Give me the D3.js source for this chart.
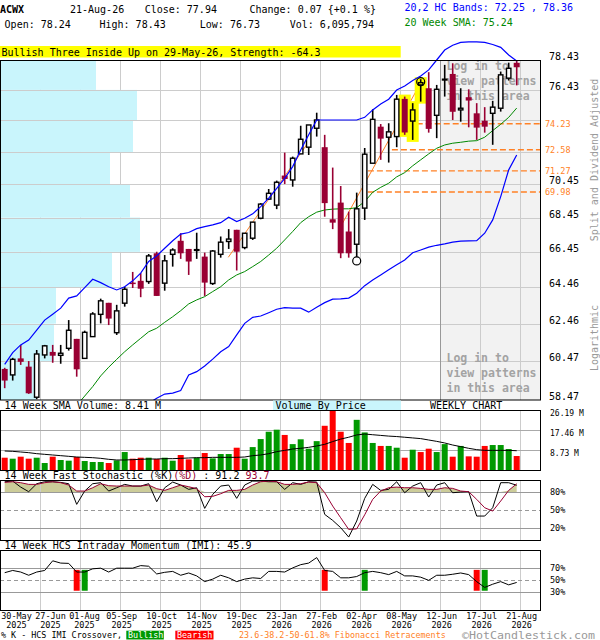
<!DOCTYPE html>
<html><head><meta charset="utf-8">
<script src="https://cdn.jsdelivr.net/npm/d3@7"></script>
<style>
body{margin:0;background:#fff}
svg{display:block}
text{font-family:"DejaVu Sans Mono",monospace}
</style>
</head><body>
<svg id="c" width="600" height="640"></svg>
<script>
// ---------------- DATA ----------------
const tickIdx=[0,4,9,14,19,24,29,34,39,44,49,54,59,64];
const tickDay=["30-May","27-Jun","01-Aug","05-Sep","10-Oct","14-Nov","19-Dec","23-Jan","27-Feb","02-Apr","08-May","12-Jun","17-Jul","21-Aug"];
const tickYear=["2025","2025","2025","2025","2025","2025","2025","2026","2026","2026","2026","2026","2026","2026"];

const open=[60.06,59.75,60.61,60.18,58.61,60.79,60.95,60.77,61.14,61.64,60.61,61.76,62.96,63.59,61.97,63.57,64.71,64.81,64.77,66.37,64.68,66.31,67.09,66.62,66.54,66.18,64.66,66.31,67.05,67.73,66.70,67.24,68.41,69.55,69.19,70.98,70.71,72.32,72.74,73.94,72.74,68.35,69.34,67.63,66.89,69.01,71.74,74.04,73.37,73.41,75.84,74.40,76.76,76.54,74.77,77.09,77.49,75.12,75.95,74.90,74.42,74.90,75.23,77.21,78.24];
const high=[60.12,60.64,61.32,60.47,61.05,61.32,61.32,61.32,62.65,61.64,62.08,63.08,63.82,63.59,63.48,64.48,65.31,65.24,66.33,66.46,66.27,66.66,67.53,66.62,67.56,66.41,66.56,67.34,67.77,67.73,67.53,68.18,69.31,70.16,70.67,72.40,72.15,74.10,74.15,74.94,73.52,71.47,70.34,68.80,69.94,72.69,75.16,74.21,74.26,76.10,75.99,75.56,77.14,77.61,76.76,78.10,78.21,76.54,76.47,75.56,75.30,75.71,77.65,78.25,78.43];
const low=[59.07,59.46,60.27,58.78,58.51,60.61,60.38,60.33,61.02,59.66,60.61,61.76,62.47,62.38,61.85,63.38,64.41,63.90,64.64,63.97,64.26,65.61,66.05,65.14,66.05,63.97,64.58,66.12,66.62,65.39,66.60,67.14,68.35,69.50,68.95,70.46,70.30,72.32,72.25,73.41,68.50,67.77,66.09,66.12,66.16,68.31,71.74,71.95,71.78,72.74,73.52,73.20,75.66,73.66,73.31,75.99,74.47,74.36,74.00,73.20,73.66,72.89,75.01,77.05,76.73];
const close=[59.46,60.56,60.43,58.81,60.84,61.27,60.75,60.88,62.10,60.04,61.99,62.98,63.70,62.73,63.15,64.34,64.63,64.37,66.22,63.97,65.94,66.56,66.37,65.90,66.58,64.71,66.50,67.01,67.19,66.46,67.53,68.18,69.25,69.90,70.57,70.77,72.05,73.24,74.15,74.47,69.31,68.15,66.37,66.37,68.97,72.30,74.51,73.28,73.71,75.82,73.67,75.12,76.91,73.90,76.47,77.14,75.00,75.23,75.73,73.98,74.04,75.30,77.43,77.87,77.94];

const hcUpper=[60.30,60.91,61.32,61.58,62.11,62.65,62.97,63.30,63.85,63.97,64.43,64.90,64.71,64.48,64.30,64.48,64.81,65.24,65.90,66.22,66.66,67.09,67.48,67.57,67.80,67.92,68.02,68.15,68.47,68.21,68.41,68.67,69.10,69.61,70.20,70.81,71.53,72.57,73.52,74.47,74.47,74.47,74.47,74.47,74.47,74.64,75.12,75.51,75.82,76.42,76.69,77.05,77.36,77.76,78.43,79.11,79.44,79.63,79.67,79.67,79.63,79.49,79.29,78.77,78.36];
const hcLower=[null,null,null,null,null,null,null,null,null,null,null,null,null,null,null,null,null,null,58.30,58.56,58.77,58.82,58.95,59.75,59.92,60.21,60.57,60.96,61.23,61.85,62.47,62.80,62.87,63.05,63.24,63.33,63.30,63.30,63.08,63.35,63.60,63.79,63.81,63.85,64.12,64.54,64.86,65.14,65.43,65.71,65.99,66.40,66.56,66.72,66.83,66.91,67.01,67.07,67.09,67.10,67.53,68.31,69.70,71.33,72.25];
const sma20=[null,null,null,null,null,null,null,null,null,58.20,58.67,59.15,59.70,60.15,60.56,60.96,61.32,61.67,62.02,62.21,62.53,62.83,63.16,63.53,63.75,63.93,64.21,64.48,64.86,65.14,65.33,65.61,65.90,66.27,66.66,67.14,67.63,68.15,68.50,68.77,68.90,68.95,68.97,68.97,69.04,69.40,69.96,70.26,70.51,70.90,71.16,71.58,71.95,72.32,72.67,72.88,72.99,73.05,73.12,73.15,73.37,73.79,74.19,74.64,75.24];

const volume=[5.37,4.94,5.81,4.94,5.37,3.05,5.81,4.36,4.07,5.67,3.92,3.49,3.49,3.05,4.21,7.84,4.94,5.37,5.37,4.79,5.37,4.07,6.54,4.65,5.37,7.41,5.08,6.97,6.97,9.73,4.94,10.0,13.5,16.7,17.6,15.3,11.3,13.4,9.30,12.6,19.3,26.19,16.7,11.8,21.9,16.4,11.8,10.5,10.5,9.73,5.37,8.86,7.84,9.30,7.84,11.3,5.81,10.5,5.96,5.81,10.5,10.9,10.9,9.15,6.10];
const volUp=[0,1,0,0,1,1,0,1,1,0,1,1,1,0,1,1,0,0,1,0,1,1,0,0,1,0,1,1,1,0,1,1,1,1,1,0,1,1,1,1,0,0,0,0,1,1,1,0,1,1,0,1,0,0,1,1,0,1,0,0,0,1,1,1,0];
const volSma=[8.29,8.15,7.86,7.57,7.13,6.84,6.55,6.26,5.97,5.67,5.53,5.38,5.09,4.66,4.37,4.37,4.51,4.66,4.80,4.80,4.95,4.95,5.09,5.24,5.38,5.38,5.53,5.53,5.53,5.53,5.67,6.26,6.55,7.13,8.00,8.58,9.17,9.46,9.89,10.48,11.2,12.4,13.5,14.3,15.3,15.7,15.4,15.1,14.8,14.6,14.3,14.0,13.7,13.1,12.5,11.8,10.9,10.2,9.46,8.88,8.58,8.58,8.58,8.58,8.41];

const stochK=[97.1,98.2,88.2,80.5,93.8,97.1,97.1,96.0,93.8,59.4,81.6,93.8,95.5,81.6,87.1,92.7,89.9,89.9,93.8,63.8,87.1,96.6,91.6,84.4,87.1,52.7,76.0,89.9,91.6,69.4,91.6,98.2,98.2,97.1,97.1,84.4,95.5,92.7,97.1,96.6,42.7,32.7,20.5,4.9,31.6,69.4,92.7,82.7,84.4,97.1,78.8,89.9,95.5,71.6,91.6,95.5,78.8,79.9,80.5,39.9,39.9,53.8,95.5,95.5,91.2];
const stochD=[96.0,97.1,95.5,92.7,92.7,95.5,97.1,95.5,91.6,81.6,81.6,87.1,93.8,90.5,89.9,89.9,89.9,89.9,91.6,85.5,82.7,87.1,91.6,88.8,85.5,72.1,72.7,77.1,82.7,82.7,84.4,91.6,97.1,98.2,97.1,92.7,92.7,93.8,96.6,95.5,78.8,56.6,37.1,17.7,18.5,42.0,67.7,81.6,87.1,88.2,87.1,87.1,86.0,84.4,84.4,87.1,86.0,81.6,80.5,67.7,53.8,48.2,64.9,82.7,93.7];

const imi=[62.6,66.4,63.7,58.2,63.7,66.4,82.9,79.0,78.5,63.7,63.7,69.2,70.3,63.7,70.3,70.3,70.3,74.7,73.6,60.4,63.2,64.8,58.2,62.1,57.1,47.3,51.6,58.2,53.8,47.3,51.6,53.8,52.7,64.8,64.8,63.7,70.8,76.3,79.0,88.4,66.4,64.8,53.8,53.8,56.0,62.6,64.8,62.6,59.3,64.8,57.1,57.1,54.9,49.5,58.2,58.2,59.9,62.1,59.3,47.3,37.4,42.9,47.3,41.8,45.9];
const imiBear=[9,40,59];
const imiBull=[10,45,60];

const gridPrices=[78.43,76.43,74.44,72.44,70.45,68.45,66.45,64.46,62.46,60.47,58.47];
const hiddenPrices=[74.44,72.44];
const vbpVol=[96,137,133,110,130,140,112,56,54,36];

const fibLevels=[74.23,72.58,71.27,69.98];
const fibFrom=[51.5,48.4,45.4,45.4];
const fibTrend=[[27.95,66.14,38.16,73.20],[41.9,67.84,52,76.89]];
const patternBars=[50,51,52];
const swingLow=44, swingHigh=52;

// ---------------- DRAW ----------------
const svg=d3.select("#c");
const RED="#990033", ORANGE="#ff8126", CYAN="#c9f5fc";
const x=d3.scaleLinear().domain([0,64]).range([4.7,516.7]);
const y=d3.scaleLog().domain([58.47,78.43]).range([400,60]);
const yv=d3.scaleLinear().domain([0,26.19]).range([470,410]);
const ys=d3.scaleLinear().domain([0,100]).range([540,480]);
const yi=d3.scaleLinear().domain([0,100]).range([609.3,550.8]);
const vbpX=d3.scaleLinear().domain([0,140]).range([0,140]);
const idx=d3.range(65);
const gridX=tickIdx.slice(1).map(i=>Math.round(x(i)+3.3)+0.5);

svg.append("rect").attr("width",600).attr("height",640).attr("fill","#fff");
const defs=svg.append("defs");
defs.append("clipPath").attr("id","cm").append("rect").attr("x",0).attr("y",60).attr("width",541).attr("height",340);

// header
const hdr=svg.append("g").attr("font-size",10);
hdr.append("text").attr("x",0).attr("y",12.7).attr("font-weight","bold").text("ACWX");
hdr.append("text").attr("x",70).attr("y",12.7).text("21-Aug-26");
hdr.append("text").attr("x",144.7).attr("y",12.7).text("Close: 77.94");
hdr.append("text").attr("x",249.5).attr("y",12.7).text("Change: 0.07 {+0.1 %}");
hdr.append("text").attr("x",4.6).attr("y",27.7).text("Open: 78.24");
hdr.append("text").attr("x",99.5).attr("y",27.7).text("High: 78.43");
hdr.append("text").attr("x",199.8).attr("y",27.7).text("Low: 76.73");
hdr.append("text").attr("x",289.7).attr("y",27.7).text("Vol: 6,095,794");
hdr.append("text").attr("x",404.5).attr("y",10.5).attr("fill","#0000ff").text("20,2 HC Bands: 72.25 , 78.36");
hdr.append("text").attr("x",404.5).attr("y",25.7).attr("fill","#008800").text("20 Week SMA: 75.24");
svg.append("rect").attr("x",0).attr("y",46).attr("width",400.7).attr("height",11.5).attr("fill","#ffff00");
svg.append("text").attr("x",1.5).attr("y",55.5).attr("font-size",10).text("Bullish Three Inside Up on 29-May-26, Strength: -64.3");

// main panel
const m=svg.append("g");
m.append("rect").attr("x",440).attr("y",60).attr("width",101).attr("height",340).attr("fill","#f2f2f2");
m.selectAll(".vg").data(gridX).join("line").attr("x1",d=>d).attr("x2",d=>d).attr("y1",60).attr("y2",400).attr("stroke","#cccccc");
m.selectAll(".vbp").data(vbpVol).join("rect")
  .attr("x",0).attr("y",(d,k)=>y(gridPrices[k])).attr("width",d=>vbpX(d))
  .attr("height",(d,k)=>y(gridPrices[k+1])-y(gridPrices[k])).attr("fill",CYAN);
m.selectAll(".hg").data(gridPrices.slice(1,-1)).join("line")
  .attr("x1",0).attr("x2",541).attr("y1",d=>Math.round(y(d))+0.5).attr("y2",d=>Math.round(y(d))+0.5).attr("stroke","#cccccc");
m.append("line").attr("x1",440.5).attr("x2",440.5).attr("y1",60).attr("y2",400).attr("stroke","#999");

const login=m.append("g").attr("fill","#a3a3a3").attr("font-size",11.5).attr("font-weight","bold");
[["Log in to",69.5],["view patterns",84.5],["in this area",99.5],["Log in to",362],["view patterns",377],["in this area",392]]
  .forEach(([t,yy])=>login.append("text").attr("x",446.5).attr("y",yy).text(t));

const mc=m.append("g").attr("clip-path","url(#cm)");
// fib lines
mc.selectAll(".fib").data(fibLevels).join("line")
  .attr("x1",(d,k)=>x(fibFrom[k])).attr("x2",541).attr("y1",d=>y(d)).attr("y2",d=>y(d))
  .attr("stroke",ORANGE).attr("stroke-width",1.4).attr("stroke-dasharray","6,3");
mc.selectAll(".ft").data(fibTrend).join("line")
  .attr("x1",d=>x(d[0])).attr("y1",d=>y(d[1])).attr("x2",d=>x(d[2])).attr("y2",d=>y(d[3]))
  .attr("stroke",ORANGE).attr("stroke-width",1);

const ln=arr=>d3.line().defined(i=>arr[i]!=null).x(i=>x(i)).y(i=>y(arr[i]))(idx);
mc.append("path").attr("d",ln(sma20)).attr("fill","none").attr("stroke","#008800").attr("stroke-width",1);
mc.append("path").attr("d",ln(hcLower)).attr("fill","none").attr("stroke","#0000ff").attr("stroke-width",1.2);
m.append("path").attr("d",ln(hcUpper)).attr("fill","none").attr("stroke","#0000ff").attr("stroke-width",1.2);

// pattern highlight
mc.selectAll(".hl").data(patternBars).join("rect")
  .attr("x",i=>x(i)-6).attr("width",12).attr("y",i=>y(high[i])-2).attr("height",i=>y(low[i])-y(high[i])+4).attr("fill","#ffff00");

// candles
const cg=mc.append("g");
idx.forEach(i=>{
  const up=close[i]>=open[i];
  cg.append("line").attr("x1",x(i)).attr("x2",x(i)).attr("y1",y(high[i])).attr("y2",y(low[i]))
    .attr("stroke",up?"#000":RED).attr("stroke-width",1.6);
  if(up){
    cg.append("rect").attr("x",x(i)-2.2).attr("width",4.4).attr("y",y(close[i]))
      .attr("height",Math.max(y(open[i])-y(close[i]),0.8))
      .attr("fill",patternBars.includes(i)?"#ffff00":"#fff").attr("stroke","#000").attr("stroke-width",1.4);
  } else {
    cg.append("rect").attr("x",x(i)-3).attr("width",6).attr("y",y(open[i]))
      .attr("height",Math.max(y(close[i])-y(open[i]),1.5)).attr("fill",RED);
  }
});
mc.append("circle").attr("cx",x(swingLow)).attr("cy",y(low[swingLow])+4).attr("r",4).attr("fill","none").attr("stroke","#000").attr("stroke-width",1.2);
mc.append("circle").attr("cx",x(swingHigh)).attr("cy",y(high[swingHigh])+2.5).attr("r",4).attr("fill","none").attr("stroke","#000").attr("stroke-width",1.2);
m.append("rect").attr("x",0.5).attr("y",60.5).attr("width",540).attr("height",339.5).attr("fill","none").attr("stroke","#000");

// right axis
svg.append("g").attr("font-size",10).selectAll("text").data(gridPrices.filter(p=>!hiddenPrices.includes(p))).join("text")
  .attr("x",549).attr("y",d=>y(d)).text(d=>d.toFixed(2));
svg.append("g").attr("font-size",8.5).attr("fill",ORANGE).selectAll("text").data(fibLevels).join("text")
  .attr("x",545).attr("y",d=>y(d)+3).text(d=>d.toFixed(2));
svg.append("text").attr("transform","translate(598,160) rotate(-90)").attr("text-anchor","middle").attr("font-size",10).attr("fill","#999").text("Split and Dividend Adjusted");
svg.append("text").attr("transform","translate(598,338) rotate(-90)").attr("text-anchor","middle").attr("font-size",10).attr("fill","#999").text("Logarithmic");

// volume panel
const v=svg.append("g");
v.append("text").attr("x",4.6).attr("y",408.5).attr("font-size",10).text("14 Week SMA Volume: 8.41 M");
v.append("rect").attr("x",273).attr("y",400.5).attr("width",128).attr("height",9.5).attr("fill",CYAN);
v.append("text").attr("x",275.5).attr("y",408.5).attr("font-size",10).text("Volume By Price");
v.append("text").attr("x",430).attr("y",408.5).attr("font-size",10).text("WEEKLY CHART");
v.selectAll(".vg").data(gridX).join("line").attr("x1",d=>d).attr("x2",d=>d).attr("y1",410).attr("y2",470).attr("stroke","#cccccc");
v.selectAll(".hg").data([8.73,17.46]).join("line").attr("x1",0).attr("x2",541)
  .attr("y1",d=>Math.round(yv(d))+0.5).attr("y2",d=>Math.round(yv(d))+0.5).attr("stroke","#aaa");
v.selectAll(".vb").data(idx).join("rect").attr("x",i=>x(i)-3).attr("width",6)
  .attr("y",i=>yv(volume[i])).attr("height",i=>470-yv(volume[i])).attr("fill",i=>volUp[i]?"#009900":"#ff0000");
v.append("path").attr("d",d3.line().x(i=>x(i)).y(i=>yv(volSma[i]))(idx)).attr("fill","none").attr("stroke","#000").attr("stroke-width",1);
v.append("rect").attr("x",0.5).attr("y",410.5).attr("width",540).attr("height",60).attr("fill","none").attr("stroke","#000");
v.append("g").attr("font-size",8).selectAll("text").data([26.19,17.46,8.73]).join("text")
  .attr("x",550).attr("y",d=>yv(d)+5.5).text(d=>d.toFixed(2)+" M");

// stochastic panel
const s=svg.append("g");
const st=s.append("text").attr("x",4.6).attr("y",478.5).attr("font-size",10);
st.append("tspan").text("14 Week Fast Stochastic (%K)");
st.append("tspan").attr("fill",RED).text("(%D)");
st.append("tspan").text(" : 91.2 ");
st.append("tspan").attr("fill",RED).text("93.7");
s.append("path").attr("d",d3.area().x(i=>x(i)).y0(ys(80)).y1(i=>ys(Math.max(stochD[i],80)))(idx)).attr("fill","#cccc99");
s.append("path").attr("d",d3.area().x(i=>x(i)).y0(ys(20)).y1(i=>ys(Math.min(stochD[i],20)))(idx)).attr("fill","#cccc99");
s.selectAll(".vg").data(gridX).join("line").attr("x1",d=>d).attr("x2",d=>d).attr("y1",480).attr("y2",540).attr("stroke","#cccccc");
s.selectAll(".hg").data([80,20]).join("line").attr("x1",0).attr("x2",541)
  .attr("y1",d=>Math.round(ys(d))+0.5).attr("y2",d=>Math.round(ys(d))+0.5).attr("stroke","#999");
s.append("line").attr("x1",0).attr("x2",541).attr("y1",ys(50)+0.5).attr("y2",ys(50)+0.5).attr("stroke","#999").attr("stroke-dasharray","4,3");
s.append("path").attr("d",d3.line().x(i=>x(i)).y(i=>ys(stochK[i]))(idx)).attr("fill","none").attr("stroke","#000").attr("stroke-width",1);
s.append("path").attr("d",d3.line().x(i=>x(i)).y(i=>ys(stochD[i]))(idx)).attr("fill","none").attr("stroke",RED).attr("stroke-width",1);
s.append("rect").attr("x",0.5).attr("y",480.5).attr("width",540).attr("height",60).attr("fill","none").attr("stroke","#000");
s.append("g").attr("font-size",8.5).selectAll("text").data([80,50,20]).join("text")
  .attr("x",550).attr("y",d=>ys(d)+3).text(d=>d+"%");

// IMI panel
const im=svg.append("g");
im.append("text").attr("x",4.6).attr("y",548.5).attr("font-size",10).text("14 Week HCS Intraday Momentum (IMI): 45.9");
im.selectAll(".vg").data(gridX).join("line").attr("x1",d=>d).attr("x2",d=>d).attr("y1",550).attr("y2",610).attr("stroke","#cccccc");
im.selectAll(".hg").data([70,30]).join("line").attr("x1",0).attr("x2",541)
  .attr("y1",d=>Math.round(yi(d))+0.5).attr("y2",d=>Math.round(yi(d))+0.5).attr("stroke","#999");
im.append("line").attr("x1",0).attr("x2",541).attr("y1",Math.round(yi(50))+0.5).attr("y2",Math.round(yi(50))+0.5).attr("stroke","#999").attr("stroke-dasharray","4,3");
im.selectAll(".br").data(imiBear).join("rect").attr("x",i=>x(i)-3).attr("width",6).attr("y",yi(70)+1.5).attr("height",yi(30)-yi(70)-2.5).attr("fill","#ff0000");
im.selectAll(".bu").data(imiBull).join("rect").attr("x",i=>x(i)-3).attr("width",6).attr("y",yi(70)+1.5).attr("height",yi(30)-yi(70)-2.5).attr("fill","#009900");
im.append("path").attr("d",d3.line().x(i=>x(i)).y(i=>yi(imi[i]))(idx)).attr("fill","none").attr("stroke","#000").attr("stroke-width",1);
im.append("rect").attr("x",0.5).attr("y",550.5).attr("width",540).attr("height",60).attr("fill","none").attr("stroke","#000");
im.append("g").attr("font-size",8.5).selectAll("text").data([70,50,30]).join("text")
  .attr("x",550).attr("y",d=>yi(d)+3).text(d=>d+"%");

// date axis (labels kept inside the frame and nudged apart when crowded)
const ax=svg.append("g").attr("font-size",8.5).attr("text-anchor","middle");
const labW=31, minGap=3;
let prevEnd=-Infinity;
tickIdx.forEach((i,k)=>{
  let cx=Math.max(x(i)+5, labW/2+1);
  if(cx-labW/2<prevEnd+minGap) cx=prevEnd+minGap+labW/2;
  prevEnd=cx+labW/2;
  ax.append("text").attr("x",cx).attr("y",619).text(tickDay[k]);
  ax.append("text").attr("x",cx).attr("y",627.5).text(tickYear[k]);
});

// legend
const lg=svg.append("g").attr("font-size",8.4);
lg.append("text").attr("x",1).attr("y",637.5).text("% K - HCS IMI Crossover,");
lg.append("rect").attr("x",126.3).attr("y",630.7).attr("width",37.5).attr("height",8.8).attr("fill","#009900");
lg.append("text").attr("x",128).attr("y",637.5).attr("fill","#fff").text("Bullish");
lg.append("rect").attr("x",175.3).attr("y",630.7).attr("width",38.2).attr("height",8.8).attr("fill","#ff0000");
lg.append("text").attr("x",177).attr("y",637.5).attr("fill","#fff").text("Bearish");
lg.append("text").attr("x",239).attr("y",637.5).attr("fill",ORANGE).text("23.6-38.2-50-61.8% Fibonacci Retracements");
svg.append("text").attr("x",462).attr("y",638.5).attr("font-size",11).attr("fill","#999")
  .attr("textLength",133).attr("lengthAdjust","spacingAndGlyphs").text("©HotCandlestick.com");
</script>
</body></html>
